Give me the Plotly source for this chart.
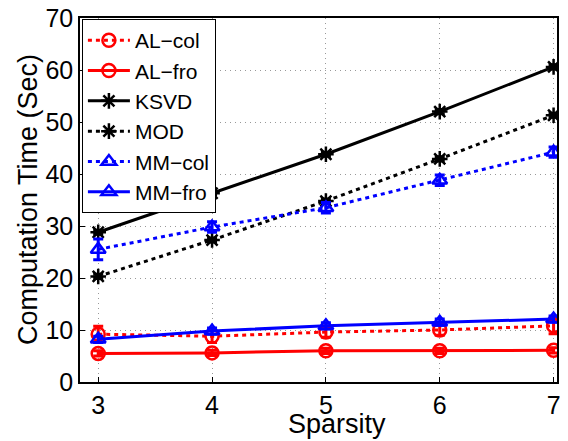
import plotly.graph_objects as go

sparsity = [3, 4, 5, 6, 7]
al_col = [9.2, 8.8, 9.6, 10.0, 10.8]
al_col_err = [1.5, 1.2, 1.0, 1.0, 1.5]
al_fro = [5.5, 5.6, 6.0, 6.0, 6.1]
al_fro_err = [0.5, 0.5, 0.5, 0.5, 0.5]
ksvd = [28.8, 36.3, 43.8, 52.0, 60.6]
ksvd_err = [0.4, 0.4, 0.4, 0.4, 0.4]
mod = [20.3, 27.3, 34.8, 42.9, 51.3]
mod_err = [0.4, 0.4, 0.4, 0.4, 0.4]
mm_col = [25.5, 29.8, 33.5, 38.8, 44.2]
mm_col_err = [2.0, 1.0, 1.0, 1.0, 1.0]
mm_fro = [8.2, 9.8, 10.8, 11.5, 12.1]
mm_fro_err = [0.6, 0.6, 0.6, 0.6, 0.6]

series = [
    ("AL\u2212col", al_col, al_col_err, "red", "4px,4px", "circle-open"),
    ("AL\u2212fro", al_fro, al_fro_err, "red", "solid", "circle-open"),
    ("KSVD", ksvd, ksvd_err, "black", "solid", "asterisk-open"),
    ("MOD", mod, mod_err, "black", "4px,4px", "asterisk-open"),
    ("MM\u2212col", mm_col, mm_col_err, "blue", "4px,4px", "triangle-up-open"),
    ("MM\u2212fro", mm_fro, mm_fro_err, "blue", "solid", "triangle-up-open"),
]

fig = go.Figure()
for name, ys, err, color, dash, sym in series:
    fig.add_trace(go.Scatter(
        x=sparsity, y=ys, name=name, mode="lines+markers",
        line=dict(color=color, width=3, dash=dash),
        marker=dict(symbol=sym, size=13, color=color, line=dict(color=color, width=2.5)),
        error_y=dict(type="data", array=err, visible=True, color=color, thickness=3, width=5),
    ))

FONT = "Liberation Sans, Arial, Helvetica, sans-serif"

fig.update_layout(
    width=560, height=433,
    margin=dict(l=72, r=11, t=10, b=59),
    paper_bgcolor="white", plot_bgcolor="white",
    font=dict(family=FONT, size=25, color="black"),
    showlegend=True,
    legend=dict(
        x=0.004, y=0.997, xanchor="left", yanchor="top",
        bgcolor="white", bordercolor="black", borderwidth=1,
        font=dict(size=21), tracegroupgap=0, itemwidth=42,
    ),
    xaxis=dict(
        range=[2.84, 7.03], tickvals=sparsity, ticktext=[str(v) for v in sparsity],
        showgrid=True, gridcolor="#999", griddash="1px,4px", gridwidth=1,
        showline=True, linecolor="black", linewidth=1.5, mirror=True,
        ticks="inside", ticklen=5, tickcolor="black", automargin=False,
        tickfont=dict(size=25), zeroline=False, ticklabeloverflow="allow",
    ),
    yaxis=dict(
        range=[0, 70], dtick=10,
        showgrid=True, gridcolor="#999", griddash="1px,4px", gridwidth=1,
        showline=True, linecolor="black", linewidth=1.5, mirror=True,
        ticks="inside", ticklen=5, tickcolor="black", automargin=False,
        tickfont=dict(size=25), zeroline=False, ticklabeloverflow="allow",
    ),
    annotations=[
        dict(text="Sparsity", xref="paper", yref="paper", x=0.539, y=-0.116,
             xanchor="center", yanchor="middle", showarrow=False,
             font=dict(family=FONT, size=27, color="black")),
        dict(text="Computation Time (Sec)", xref="paper", yref="paper", x=-0.109, y=0.50,
             xanchor="center", yanchor="middle", showarrow=False, textangle=-90,
             font=dict(family=FONT, size=27, color="black")),
    ],
)

fig.write_html("out.html")
